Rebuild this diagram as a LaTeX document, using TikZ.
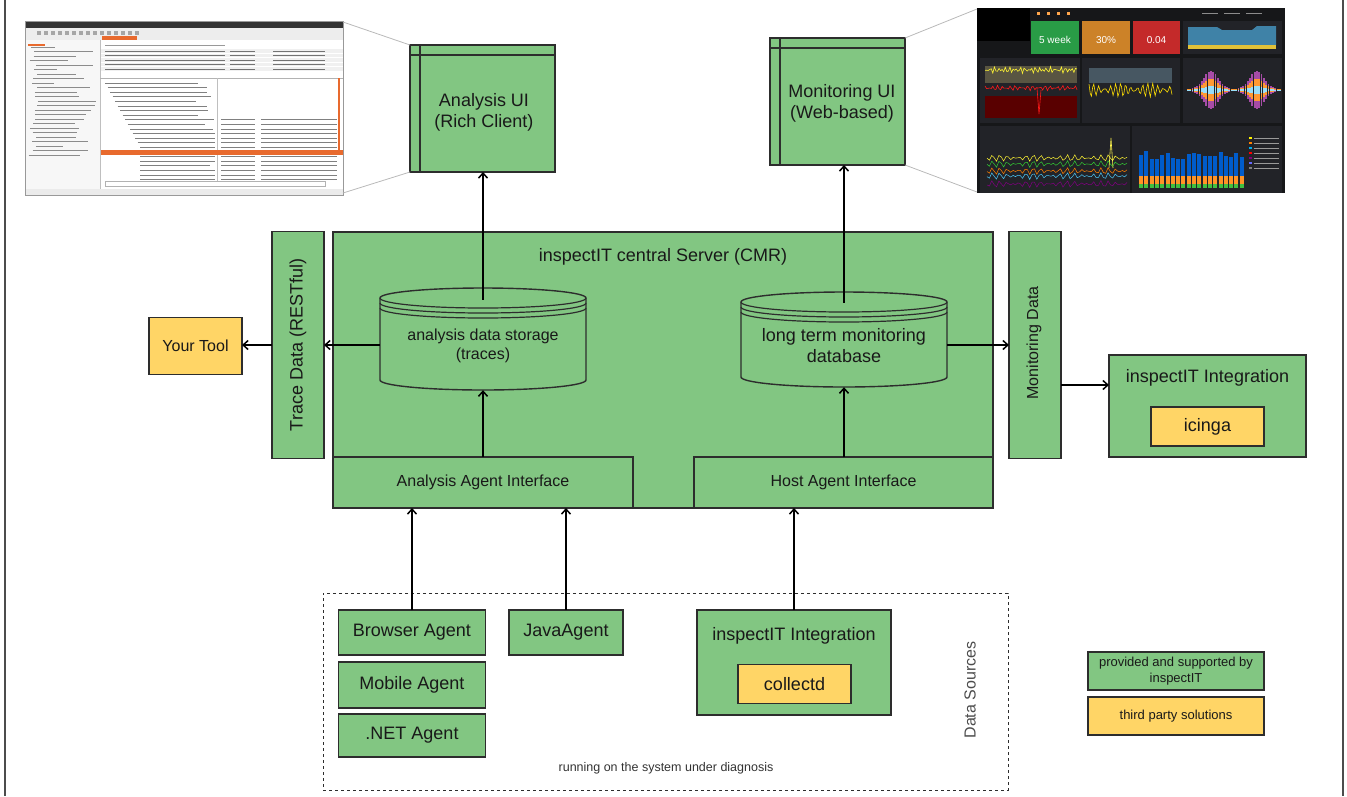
\documentclass[tikz,border=0pt]{standalone}
\usepackage{fontspec}
\setmainfont{Liberation Sans}
\usetikzlibrary{arrows.meta}
\definecolor{boxgreen}{RGB}{130,198,130}
\definecolor{boxyellow}{RGB}{255,213,102}
\definecolor{edge}{RGB}{45,45,45}
\definecolor{txt}{RGB}{25,25,25}
\definecolor{dashbg}{RGB}{22,23,25}
\definecolor{dpanel}{RGB}{34,35,40}
\definecolor{dgreen}{RGB}{41,156,70}
\definecolor{dorange}{RGB}{204,130,40}
\definecolor{dred}{RGB}{196,42,42}
\definecolor{sorange}{RGB}{232,106,46}
\newcommand{\drawcyl}[5]{%
  \filldraw[fill=boxgreen, draw=edge, line width=1.4pt] (#1,#3) -- (#1,#4) arc[start angle=180,end angle=360,x radius=#5pt,y radius=10pt] -- (#2,#3) arc[start angle=0,end angle=180,x radius=#5pt,y radius=10pt] -- cycle;
  \draw[edge, line width=1.2pt] (#1,#3) arc[start angle=180,end angle=360,x radius=#5pt,y radius=10pt];
  \draw[edge, line width=1.2pt] (#1,{#3+5}) arc[start angle=180,end angle=360,x radius=#5pt,y radius=10pt];
  \draw[edge, line width=1.2pt] (#1,{#3+10}) arc[start angle=180,end angle=360,x radius=#5pt,y radius=10pt];
}
\begin{document}
\begin{tikzpicture}[x=1pt,y=-1pt,
  gbox/.style={draw=edge, line width=1.6pt, fill=boxgreen, inner sep=0pt, outer sep=0pt, text=txt, align=center},
  ybox/.style={gbox, fill=boxyellow},
  arr/.style={draw=black, line width=1.8pt, -{Straight Barb[length=5pt,width=9pt,line width=1.5pt]}},
  conn/.style={draw=gray!55, line width=0.8pt},
  fA/.style={font=\fontsize{18}{21}\selectfont},
  fB/.style={font=\fontsize{16}{19}\selectfont},
  fC/.style={font=\fontsize{13}{15.5}\selectfont},
  lbl/.style={text=txt, align=center, inner sep=0pt},
]
\useasboundingbox (0,0) rectangle (1347,796);
% frame sides
\draw[gray!60!black, line width=2.5pt] (5,0) -- (5,796);
\draw[gray!60!black, line width=2.5pt] (1343,0) -- (1343,796);

% ---------- left screenshot (rich client) ----------
\begin{scope}[shift={(25,21)}]
  \pgfmathsetseed{3}
  \fill[white] (0,0) rectangle (318,174);
  \fill[black!80] (0,0) rectangle (318,7);
  \fill[black!7] (0,7) rectangle (318,19);
  \foreach \i in {0,...,14} \fill[black!35] ({12+\i*7},10) rectangle ++(4,4);
  \fill[black!3] (0,19) rectangle (75,168);
  \foreach \y in {26,30.5,...,136} {
    \pgfmathsetmacro\w{20+40*rnd}
    \pgfmathsetmacro\ind{3+10*rnd}
    \draw[black!45, line width=0.9pt] (\ind,\y) -- ++(\w,0);
  }
  \fill[sorange] (3,23) rectangle (20,25);
  \draw[black!25] (75,19) -- (75,168);
  \fill[sorange] (77,15) rectangle (112,19);
  \draw[black!40, line width=0.8pt] (80,24) -- (200,24);
  \foreach \y in {30,34.5,...,52} {
    \fill[black!6] (76,{\y-1.8}) rectangle (318,{\y+1.8});
    \draw[black!55, line width=0.9pt] (80,\y) -- (200,\y);
    \draw[black!55, line width=0.9pt] (205,\y) -- (230,\y);
    \draw[black!55, line width=0.9pt] (248,\y) -- (300,\y);
  }
  \draw[black!30] (75,57) -- (318,57);
  \draw[black!25] (192,57) -- (192,160);
  \foreach \i in {0,...,21} {
    \pgfmathsetmacro\yy{62+\i*4.6}
    \pgfmathsetmacro\ind{\i<15 ? 80+\i*2.5 : 115}
    \pgfmathsetmacro\w{70+30*rnd}
    \draw[black!50, line width=0.9pt] (\ind,\yy) -- ({min(\ind+\w,190)},\yy);
  }
  \foreach \i in {8,...,21} {
    \pgfmathsetmacro\yy{62+\i*4.6}
    \draw[black!50, line width=0.9pt] (196,\yy) -- (230,\yy);
    \draw[black!50, line width=0.9pt] (236,\yy) -- (312,\yy);
  }
  \fill[sorange] (76,129) rectangle (318,133.5);
  \draw[sorange, line width=1.2pt] (314,57) -- (314,129);
  \draw[black!30] (80,160) rectangle (300,165);
  \fill[black!8] (0,168) rectangle (318,174);
  \draw[black!40] (0,0) rectangle (318,174);
\end{scope}
\coordinate (s1ne) at (343,22);
\coordinate (s1se) at (343,193);

% ---------- right screenshot (dashboard) ----------
\begin{scope}[shift={(977,8)}]
  \fill[dashbg] (0,0) rectangle (308,185);
  \fill[black] (0,0) rectangle (53,33);
  \foreach \i in {0,...,3} \fill[orange!70] ({60+\i*10},4) rectangle ++(3,3);
  \foreach \i in {0,...,2} \draw[black!45, line width=0.8pt] ({225+\i*22},5) -- ++(16,0);
  \fill[dgreen] (54,13) rectangle (102,46);
  \node[white, font=\fontsize{10}{12}\selectfont, inner sep=0pt] (s5w) at (78,32) {5 week};
  \fill[dorange] (105,13) rectangle (153,46);
  \node[white, font=\fontsize{10}{12}\selectfont, inner sep=0pt] (s30) at (129,32) {30\%};
  \fill[dred] (156,13) rectangle (203,46);
  \node[white, font=\fontsize{10}{12}\selectfont, inner sep=0pt] (s004) at (179.5,32) {0.04};
  \fill[dpanel] (206,13) rectangle (305,46);
  \fill[blue!35!cyan!45!gray!90!black] (211,19) -- (240,19) -- (245,22) -- (275,22) -- (280,18) -- (299,18) -- (299,37) -- (211,37) -- cycle;
  \fill[yellow!50!brown] (211,37) rectangle (299,41);
  % row 2
  \fill[dpanel] (3,50) rectangle (103,115);
  \fill[dpanel] (105,50) rectangle (203,115);
  \fill[dpanel] (206,50) rectangle (305,115);
  \fill[red!35!black] (8,88) rectangle (100,110);
  \fill[yellow!25!black] (8,58) rectangle (100,75);
  \draw[yellow!80!white, line width=0.6pt] plot[domain=8:100,samples=60] (\x,{62+2*sin(\x*97)+1.5*cos(\x*71)});
  \draw[red!90!white, line width=0.6pt] plot[domain=8:100,samples=60] (\x,{80+1.5*sin(\x*83)+1.2*cos(\x*61)});
  \draw[red!90!white, line width=0.6pt] (60,80) -- (62,106) -- (64,82);
  \fill[cyan!30!black] (112,60) rectangle (195,75);
  \draw[yellow!80!orange, line width=0.6pt] plot[domain=112:195,samples=70] (\x,{82+4*sin(\x*67)+3*cos(\x*79)});
  \foreach \i in {0,...,40} {
    \pgfmathsetmacro\xx{210+\i*2.3}
    \pgfmathsetmacro\hh{18*exp(-((\i-10)^2)/20)+18*exp(-((\i-30)^2)/20)+1}
    \fill[violet!70] (\xx,{82-\hh}) rectangle ({\xx+1.8},{82+\hh});
    \fill[orange!80] (\xx,{82-0.6*\hh}) rectangle ({\xx+1.8},{82+0.6*\hh});
    \fill[cyan!40] (\xx,{82-0.2*\hh}) rectangle ({\xx+1.8},{82+0.2*\hh});
  }
  % row 3
  \fill[dpanel] (3,118) rectangle (153,185);
  \fill[dpanel] (155,118) rectangle (305,185);
  \foreach \c/\b in {yellow!80!white/150, green!60!gray/156, orange/163, violet/176, cyan!70/168} {
    \draw[\c, line width=0.5pt] plot[domain=10:150,samples=60] (\x,{\b+2*sin(\x*53+\b)+1.5*sin(\x*43)});
  }
  \draw[yellow!70, line width=0.6pt] (132,160) -- (134,130) -- (136,160);
  \pgfmathsetseed{5}
  \foreach \i in {0,...,19} {
    \pgfmathsetmacro\hh{28+10*rnd}
    \pgfmathsetmacro\xx{162+\i*5.3}
    \fill[blue!55!cyan!80!black] (\xx,180) rectangle ({\xx+4},{180-\hh});
    \fill[orange!85] (\xx,177) rectangle ({\xx+4},168);
    \fill[green!50!gray] (\xx,180) rectangle ({\xx+4},176);
  }
  \foreach \c [count=\k] in {yellow, orange, cyan, red, violet, blue!60, gray} {
    \fill[\c] (272,{124+\k*5}) rectangle ++(3,2);
    \draw[black!40, line width=0.8pt] (277,{125+\k*5}) -- (302,{125+\k*5});
  }
\end{scope}
\coordinate (s2nw) at (977,9);
\coordinate (s2sw) at (977,192);

% ---------- UI boxes ----------
\node[gbox, minimum width=145, minimum height=127] (aui) at (482.5,108.5) {};
\draw[edge, line width=1.6pt] ([xshift=10pt]aui.north west) -- ([xshift=10pt]aui.south west);
\draw[edge, line width=1.6pt] ([yshift=-10pt]aui.north west) -- ([yshift=-10pt]aui.north east);
\node[lbl, fA] (auit) at (484,112) {Analysis UI\\(Rich Client)};

\node[gbox, minimum width=135, minimum height=127] (mui) at (837.5,101.5) {};
\draw[edge, line width=1.6pt] ([xshift=10pt]mui.north west) -- ([xshift=10pt]mui.south west);
\draw[edge, line width=1.6pt] ([yshift=-10pt]mui.north west) -- ([yshift=-10pt]mui.north east);
\node[lbl, fA] (muit) at (842,103) {Monitoring UI\\(Web-based)};

\draw[conn] (s1ne) -- (aui.north west);
\draw[conn] (s1se) -- (aui.south west);
\draw[conn] (mui.north east) -- (s2nw);
\draw[conn] (mui.south east) -- (s2sw);

% ---------- server ----------
\node[gbox, minimum width=660, minimum height=276] (srv) at (663,370) {};
\node[lbl, fA] (srvt) at (663,257) {inspectIT central Server (CMR)};
\node[gbox, minimum width=52, minimum height=227] (trace) at (298,345) {};
\node[lbl, fA, rotate=90] (tracet) at (298,345) {Trace Data (RESTful)};
\node[gbox, minimum width=52, minimum height=227] (mon) at (1035,345) {};
\node[lbl, fB, rotate=90] (mont) at (1034,343) {Monitoring Data};
\node[gbox, fB, minimum width=300, minimum height=51] (aai) at (483,482.5) {Analysis Agent Interface};
\node[gbox, fB, minimum width=299, minimum height=51] (hai) at (843.5,482.5) {Host Agent Interface};

\drawcyl{380}{586}{298}{380}{103}
\node[inner sep=0pt, minimum width=206, minimum height=90] (adb) at (483,345) {};
\node[lbl, fB] (adbt) at (483,346) {analysis data storage\\(traces)};
\drawcyl{741}{947}{302}{377}{103}
\node[inner sep=0pt, minimum width=206, minimum height=84] (mdb) at (844,345) {};
\node[lbl, fA] (mdbt) at (844,346) {long term monitoring\\database};

\node[ybox, fB, minimum width=93, minimum height=57] (ytool) at (195.5,346) {Your Tool};

\node[gbox, minimum width=197, minimum height=102] (integ) at (1207.5,406) {};
\node[lbl, fA] (integt) at (1207.5,378) {inspectIT Integration};
\node[ybox, fA, minimum width=113, minimum height=39] (icinga) at (1207.5,426.5) {icinga};

% ---------- data sources ----------
\node[draw=edge, dashed, line width=0.9pt, minimum width=685, minimum height=197, inner sep=0pt] (ds) at (665.5,691.5) {};
\node[gbox, fA, minimum width=147, minimum height=45] (browser) at (412,632.5) {Browser Agent};
\node[gbox, fA, minimum width=147, minimum height=46] (mobile) at (412,685) {Mobile Agent};
\node[gbox, fA, minimum width=147, minimum height=43] (net) at (412,735.5) {.NET Agent};
\node[gbox, fA, minimum width=114, minimum height=45] (java) at (566,632.5) {JavaAgent};
\node[gbox, minimum width=194, minimum height=105] (integb) at (794,662.5) {};
\node[lbl, fA] (integbt) at (794,636) {inspectIT Integration};
\node[ybox, fA, minimum width=113, minimum height=39] (collectd) at (794.5,684) {collectd};
\node[lbl, fB, rotate=90, text=black!70] (dst) at (970,690) {Data Sources};
\node[lbl, font=\fontsize{12.5}{15}\selectfont, text=black!80] (runt) at (666,768) {running on the system under diagnosis};

% ---------- legend ----------
\node[gbox, fC, minimum width=176, minimum height=38] (leg1) at (1176,671) {provided and supported by\\inspectIT};
\node[ybox, fC, minimum width=176, minimum height=38] (leg2) at (1176,716) {third party solutions};

% ---------- connectors ----------
\draw[arr] (adb.north) -- (adb.north |- aui.south);
\draw[arr] (mdb.north) -- (mdb.north |- mui.south);
\draw[arr] (adb.west) -- (adb.west -| trace.east);
\draw[arr] (trace.west) -- (trace.west -| ytool.east);
\draw[arr] (mdb.east) -- (mdb.east -| mon.west);
\draw[arr] ([yshift=-40pt]mon.east) coordinate (m1) -- (m1 -| integ.west);
\draw[arr] (aai.north) -- (adb.south);
\draw[arr] (mdb.south |- hai.north) -- (mdb.south);
\draw[arr] (browser.north) -- (browser.north |- aai.south);
\draw[arr] (java.north) -- (java.north |- aai.south);
\draw[arr] (integb.north) -- (integb.north |- hai.south);
\end{tikzpicture}
\end{document}
